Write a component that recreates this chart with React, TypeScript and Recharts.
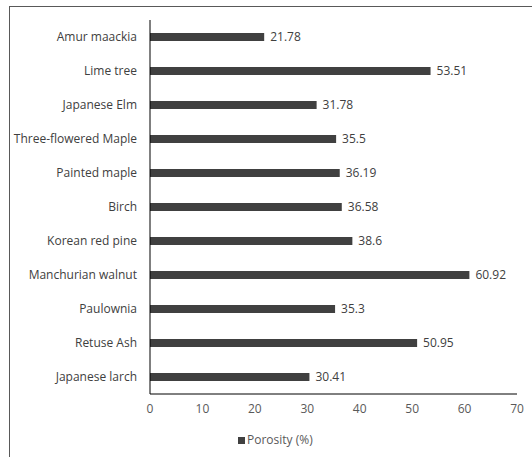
import { Bar, BarChart, LabelList, XAxis, YAxis } from "recharts";

const species = [
  "Amur maackia",
  "Lime tree",
  "Japanese Elm",
  "Three-flowered Maple",
  "Painted maple",
  "Birch",
  "Korean red pine",
  "Manchurian walnut",
  "Paulownia",
  "Retuse Ash",
  "Japanese larch",
];
const porosity = [21.78, 53.51, 31.78, 35.5, 36.19, 36.58, 38.6, 60.92, 35.3, 50.95, 30.41];
const xTicks = [0, 10, 20, 30, 40, 50, 60, 70];
const seriesName = "Porosity (%)";

const chartData = species.map((name, i) => ({ name, porosity: porosity[i] }));

const FONT = "'Open Sans', 'Noto Sans', sans-serif";
const INK = "#404040";

export default function App() {
  return (
    <div style={{ position: "relative", width: 532, height: 457, overflow: "hidden", background: "#fff" }}>
      <style>{`body{margin:0}`}</style>
      <div
        style={{
          position: "absolute",
          left: 9,
          top: 6,
          width: 600,
          height: 600,
          borderLeft: "1px solid #595959",
          borderTop: "1px solid #595959",
        }}
      />
      <BarChart
        width={532}
        height={457}
        data={chartData}
        layout="vertical"
        margin={{ top: 20, right: 15, bottom: 0, left: 0 }}
        style={{ position: "absolute", left: 0, top: 0 }}
      >
        <XAxis
          type="number"
          domain={[0, 70]}
          ticks={xTicks}
          tickLine={false}
          axisLine={{ stroke: "#000" }}
          tick={{ fill: "#595959", fontSize: 12, fontFamily: FONT }}
          tickMargin={4}
          height={63}
        />
        <YAxis
          type="category"
          dataKey="name"
          width={150}
          tickLine={false}
          axisLine={{ stroke: "#000" }}
          tick={{ fill: INK, fontSize: 12, fontFamily: FONT }}
          tickMargin={7}
          interval={0}
        />
        <Bar dataKey="porosity" name={seriesName} fill={INK} barSize={8} isAnimationActive={false}>
          <LabelList
            dataKey="porosity"
            position="right"
            offset={6}
            style={{ fill: INK, fontSize: 12, fontFamily: FONT }}
          />
        </Bar>
      </BarChart>
      {/* legend sits below the axis, centred under the plot */}
      <div
        style={{
          position: "absolute",
          left: 238,
          top: 432,
          display: "flex",
          alignItems: "center",
          gap: 2,
          fontFamily: FONT,
          fontSize: 12,
          color: "#595959",
          lineHeight: "16px",
        }}
      >
        <span style={{ width: 7, height: 7, background: INK, display: "inline-block" }} />
        <span>{seriesName}</span>
      </div>
    </div>
  );
}
